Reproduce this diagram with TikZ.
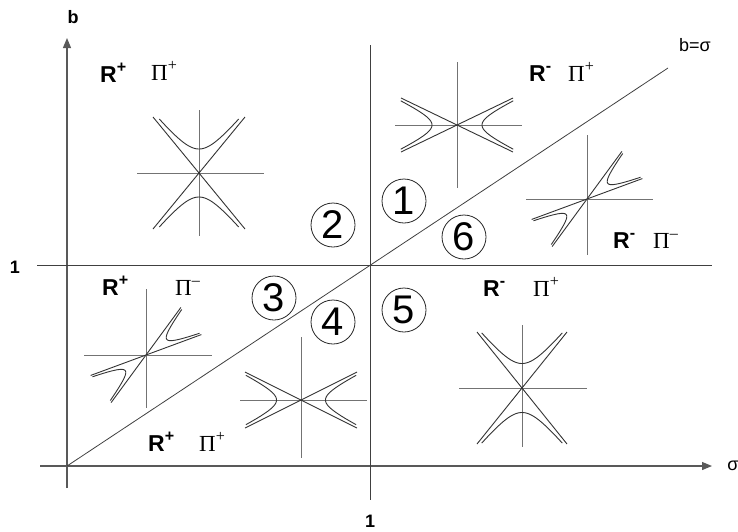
\documentclass[tikz,border=0pt]{standalone}
\usepackage{fontspec}
\setmainfont{Liberation Sans}
\newfontfamily\serifpi{Liberation Serif}
\usetikzlibrary{arrows.meta}
\newcommand{\hyperb}[3]{%
  \draw[figcurve] plot[domain=-#3:#3, samples=41, smooth, variable=\t] ({#1*cosh(\t)},{#2*sinh(\t)});
  \draw[figcurve] plot[domain=-#3:#3, samples=41, smooth, variable=\t] ({-#1*cosh(\t)},{#2*sinh(\t)});
}
\begin{document}
\begin{tikzpicture}[x=1pt,y=-1pt,
  mainline/.style={draw=black!75, line width=0.8pt},
  axisline/.style={draw=black!65, line width=1.1pt, -{Triangle[length=10pt,width=8pt]}},
  figaxis/.style={draw=black!55, line width=1pt},
  figcurve/.style={draw=black!80, line width=0.9pt},
  rlab/.style={anchor=base west, inner sep=0, font=\fontsize{23}{23}\selectfont\bfseries},
  plab/.style={anchor=base west, inner sep=0, font=\fontsize{23}{23}\selectfont\serifpi},
  num/.style={circle, draw=black!85, line width=0.8pt, minimum size=44pt, inner sep=0, font=\fontsize{40}{40}\selectfont},
  axlab/.style={inner sep=0, font=\fontsize{18}{18}\selectfont\bfseries},
  thinlab/.style={inner sep=0, font=\fontsize{18}{18}\selectfont},
]
\useasboundingbox (0,0) rectangle (738,531);

% main axes and lines
\coordinate (O) at (67,466);
\coordinate (vbot) at (67,488);
\coordinate (vtop) at (67,38);
\coordinate (hleft) at (40,466);
\coordinate (hright) at (712,466);
\coordinate (yl) at (37,265);
\coordinate (yr) at (712,265);
\coordinate (xt) at (370,45);
\coordinate (xb) at (370,500);
\coordinate (dend) at (668,68);
\draw[axisline] (vbot) -- (vtop);
\draw[axisline] (hleft) -- (hright);
\draw[mainline] (yl) -- (yr);
\draw[mainline] (xt) -- (xb);
\draw[mainline] (O) -- (dend);

% axis labels
\node[axlab] (lb) at (73,17) {b};
\node[axlab] (l1a) at (15,267) {1};
\node[axlab] (l1b) at (370,521) {1};
\node[thinlab] (lbs) at (695,45) {b=σ};
\node[thinlab] (lsig) at (733,466) {σ};

% region labels
\node[rlab] (r1) at (100,82) {R\textsuperscript{+}};
\node[plab] (p1) at (151,80) {Π\textsuperscript{+}};
\node[rlab] (r2) at (529,81) {R\textsuperscript{-}};
\node[plab] (p2) at (568,81) {Π\textsuperscript{+}};
\node[rlab] (r3) at (613,248) {R\textsuperscript{-}};
\node[plab] (p3) at (653,248) {Π\textsuperscript{–}};
\node[rlab] (r4) at (102,295) {R\textsuperscript{+}};
\node[plab] (p4) at (175,295) {Π\textsuperscript{–}};
\node[rlab] (r5) at (483,296) {R\textsuperscript{-}};
\node[plab] (p5) at (533,296) {Π\textsuperscript{+}};
\node[rlab] (r6) at (148,451) {R\textsuperscript{+}};
\node[plab] (p6) at (199,451) {Π\textsuperscript{+}};

% circled numbers
\node[num] (n1) at (404,201) {1};
\node[num] (n2) at (333,225) {2};
\node[num] (n3) at (274,298) {3};
\node[num] (n4) at (333,322) {4};
\node[num] (n5) at (404,310) {5};
\node[num] (n6) at (464,237) {6};

% Fig A (vertical hyperbola, top-left)
\draw[figaxis] (137,173) -- (264,173);
\draw[figaxis] (199,110) -- (199,236);
\begin{scope}[shift={(199,173)}]
  \draw[figcurve] (-46,-56) -- (46,56);
  \draw[figcurve] (46,-56) -- (-46,56);
  \begin{scope}[rotate=90]\hyperb{24}{19.7}{1.45}\end{scope}
\end{scope}

% Fig B (horizontal hyperbola, top near x=1)
\draw[figaxis] (395,125) -- (522,125);
\draw[figaxis] (457,62) -- (457,188);
\begin{scope}[shift={(457,125)}]
  \draw[figcurve] (-56,-27) -- (56,27);
  \draw[figcurve] (56,-27) -- (-56,27);
  \hyperb{25}{12}{1.45}
\end{scope}

% Fig C (rotated, right)
\draw[figaxis] (526,199) -- (653,199);
\draw[figaxis] (587,135) -- (587,255);
\begin{scope}[shift={(587,199)}, rotate=37]
  \draw[figcurve] (-56.5,-17) -- (56.5,17);
  \draw[figcurve] (56.5,-17) -- (-56.5,17);
  \hyperb{26}{7.8}{1.4}
\end{scope}

% Fig D (rotated, lower-left)
\draw[figaxis] (84,355) -- (212,355);
\draw[figaxis] (146,289) -- (146,408);
\begin{scope}[shift={(146,355)}, rotate=37]
  \draw[figcurve] (-56.5,-17) -- (56.5,17);
  \draw[figcurve] (56.5,-17) -- (-56.5,17);
  \hyperb{26}{7.8}{1.4}
\end{scope}

% Fig E (horizontal hyperbola, lower middle)
\draw[figaxis] (240,400) -- (367,400);
\draw[figaxis] (301,337) -- (301,458);
\begin{scope}[shift={(301,400)}]
  \draw[figcurve] (-56,-28) -- (56,28);
  \draw[figcurve] (56,-28) -- (-56,28);
  \hyperb{24.5}{12.25}{1.45}
\end{scope}

% Fig F (vertical hyperbola, lower right)
\draw[figaxis] (459,388) -- (587,388);
\draw[figaxis] (522,325) -- (522,447);
\begin{scope}[shift={(522,388)}]
  \draw[figcurve] (-45,-56) -- (45,56);
  \draw[figcurve] (45,-56) -- (-45,56);
  \begin{scope}[rotate=90]\hyperb{24.5}{20}{1.45}\end{scope}
\end{scope}
\end{tikzpicture}
\end{document}
